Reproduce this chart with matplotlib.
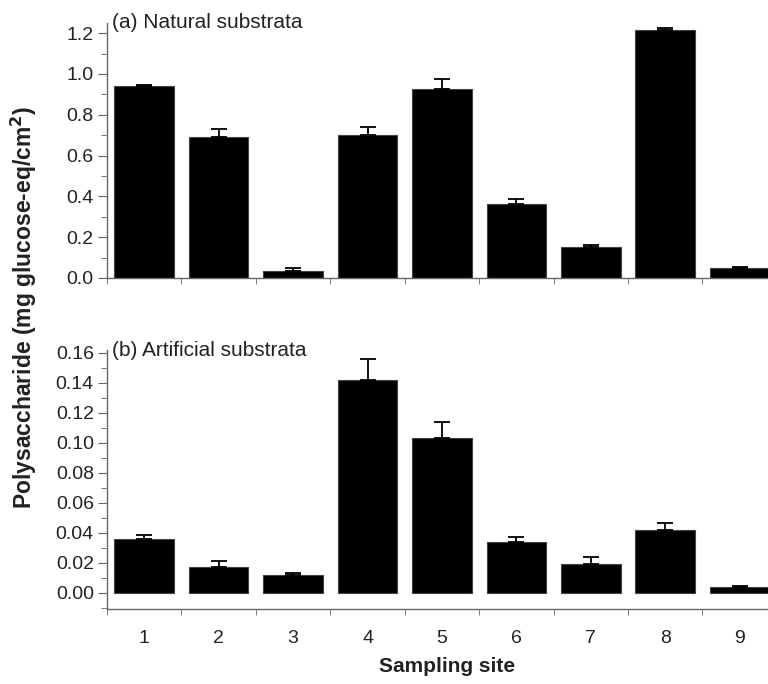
import numpy as np
import matplotlib
matplotlib.use("Agg")
import matplotlib.pyplot as plt
from matplotlib.ticker import MultipleLocator

plt.rcParams['font.family'] = ['Liberation Sans', 'DejaVu Sans']

# data
sites = [1, 2, 3, 4, 5, 6, 7, 8, 9]
natural = [0.940, 0.692, 0.034, 0.700, 0.924, 0.362, 0.152, 1.214, 0.047]
natural_err = [0.005, 0.036, 0.013, 0.040, 0.049, 0.023, 0.010, 0.012, 0.005]
artificial = [0.0362, 0.0173, 0.0122, 0.1416, 0.1031, 0.0338, 0.0193, 0.0418, 0.0038]
artificial_err = [0.0022, 0.0040, 0.0014, 0.0144, 0.0107, 0.0035, 0.0047, 0.0047, 0.0005]

grey = '#666666'
txt = '#222222'

fig = plt.figure(figsize=(7.68, 6.84), dpi=100)
ax1 = fig.add_axes([0.1393, 0.5936, 0.8607, 0.3728])
ax2 = fig.add_axes([0.1393, 0.1096, 0.8607, 0.3787])


def draw(ax, vals, errs, ylim, major, minor, fmt, label):
    ax.bar(sites, vals, width=0.8, color='black', edgecolor='#444444', linewidth=0.8, zorder=2)
    ax.errorbar(sites, vals, yerr=[np.zeros(len(errs)), errs], fmt='none',
                ecolor='black', elinewidth=1.3, capsize=6, capthick=1.3, zorder=3)
    ax.set_xlim(0.5, 9.38)
    ax.set_ylim(*ylim)
    for s in ['top', 'right']:
        ax.spines[s].set_visible(False)
    for s in ['left', 'bottom']:
        ax.spines[s].set_color(grey)
        ax.spines[s].set_linewidth(1.0)
    ax.set_xticks(sites)
    ax.xaxis.set_minor_locator(MultipleLocator(1, offset=0.5))
    ax.tick_params(axis='x', which='major', length=0, pad=15, labelsize=14, labelcolor=txt)
    ax.tick_params(axis='x', which='minor', length=4, color=grey, direction='out')
    ax.yaxis.set_major_locator(MultipleLocator(major))
    ax.yaxis.set_minor_locator(MultipleLocator(minor))
    ax.yaxis.set_major_formatter(fmt)
    ax.tick_params(axis='y', which='major', length=6.5, color=grey, labelsize=14,
                   labelcolor=txt, direction='out', pad=3)
    ax.tick_params(axis='y', which='minor', length=4, color=grey, direction='out')
    ax.text(0.008, ylim[1], label, fontsize=15, color=txt, va='center', ha='left',
            transform=ax.get_yaxis_transform(), clip_on=False)


draw(ax1, natural, natural_err, (0, 1.25), 0.2, 0.1, '{x:.1f}', '(a) Natural substrata')
draw(ax2, artificial, artificial_err, (-0.0107, 0.1617), 0.02, 0.01, '{x:.2f}', '(b) Artificial substrata')
ax1.tick_params(axis='x', which='major', labelbottom=False)

fig.text(0.031, 0.55, 'Polysaccharide (mg glucose-eq/cm$^\\mathbf{2}$)', rotation=90,
         fontsize=16.5, fontweight='bold', color=txt, ha='center', va='center')
fig.text(0.582, 0.025, 'Sampling site', fontsize=15, fontweight='bold', color=txt,
         ha='center', va='center')

fig.savefig('out.png', dpi=100)
